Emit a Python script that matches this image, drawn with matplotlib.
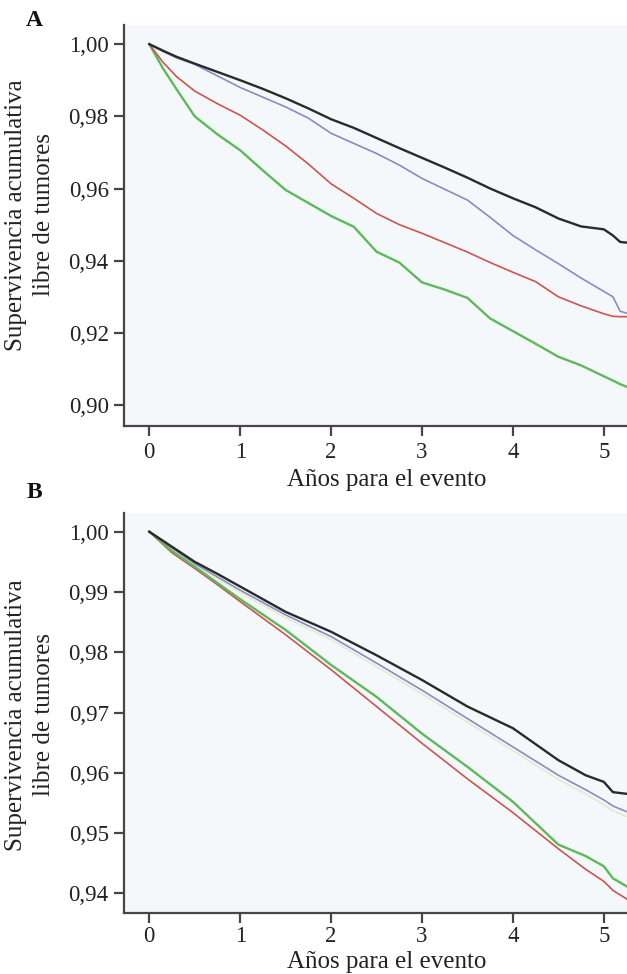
#!/usr/bin/env python3
"""
Two stacked survival curves (panels A and B): cumulative tumour-free
survival against years to event, four groups per panel.
Values read off the published figure.
"""
import matplotlib.pyplot as plt
from matplotlib.ticker import FuncFormatter

# ---- panel A -------------------------------------------------------------
A_YEARS = [0, 0.15, 0.3, 0.5, 0.75, 1, 1.25, 1.5, 1.75, 2, 2.25, 2.5, 2.75,
           3, 3.25, 3.5, 3.75, 4, 4.25, 4.5, 4.75, 5, 5.1, 5.18, 5.26]
A_BLACK = [1.000, 0.9982, 0.9965, 0.9946, 0.9923, 0.9900, 0.9876, 0.9850,
           0.9822, 0.9792, 0.9768, 0.9740, 0.9712, 0.9685, 0.9658, 0.9630,
           0.9600, 0.9573, 0.9548, 0.9517, 0.9495, 0.9487, 0.9470, 0.9452,
           0.9450]
A_BLUE = [1.000, 0.9980, 0.9962, 0.9944, 0.9912, 0.9880, 0.9853, 0.9826,
          0.9795, 0.9753, 0.9725, 0.9697, 0.9665, 0.9628, 0.9598, 0.9568,
          0.9520, 0.9470, 0.9430, 0.9392, 0.9352, 0.9315, 0.9300, 0.9260,
          0.9254]
A_RED = [1.000, 0.9950, 0.9910, 0.9870, 0.9835, 0.9803, 0.9762, 0.9718,
         0.9668, 0.9613, 0.9573, 0.9531, 0.9500, 0.9476, 0.9450, 0.9424,
         0.9395, 0.9368, 0.9342, 0.9300, 0.9275, 0.9253, 0.9246, 0.9245,
         0.9245]
A_GREEN = [1.000, 0.9933, 0.9875, 0.9800, 0.9750, 0.9706, 0.9650, 0.9596,
           0.9560, 0.9524, 0.9494, 0.9425, 0.9395, 0.9340, 0.9320, 0.9297,
           0.9240, 0.9205, 0.9170, 0.9134, 0.9110, 0.9080, 0.9068, 0.9058,
           0.9050]

# ---- panel B -------------------------------------------------------------
B_YEARS = [0, 0.25, 0.5, 0.75, 1, 1.5, 2, 2.5, 3, 3.5, 4, 4.5, 4.8, 5,
           5.1, 5.26]
B_BLACK = [1.000, 0.9975, 0.9950, 0.9930, 0.9909, 0.9867, 0.9834, 0.9795,
           0.9754, 0.9710, 0.9674, 0.9621, 0.9596, 0.9585, 0.9568, 0.9565]
B_BLUE = [1.000, 0.9973, 0.9947, 0.9925, 0.9903, 0.9862, 0.9826, 0.9782,
          0.9737, 0.9690, 0.9643, 0.9596, 0.9572, 0.9555, 0.9545, 0.9535]
B_PALE = [1.000, 0.9972, 0.9945, 0.9922, 0.9899, 0.9857, 0.9821, 0.9776,
          0.9731, 0.9684, 0.9637, 0.9589, 0.9565, 0.9547, 0.9537, 0.9527]
B_GREEN = [1.000, 0.9968, 0.9942, 0.9915, 0.9888, 0.9837, 0.9779, 0.9726,
           0.9665, 0.9610, 0.9552, 0.9481, 0.9462, 0.9445, 0.9425, 0.9411]
B_RED = [1.000, 0.9965, 0.9939, 0.9912, 0.9884, 0.9829, 0.9771, 0.9710,
         0.9649, 0.9590, 0.9534, 0.9474, 0.9440, 0.9420, 0.9405, 0.9390]

A_YTICKS = [0.90, 0.92, 0.94, 0.96, 0.98, 1.00]
B_YTICKS = [0.94, 0.95, 0.96, 0.97, 0.98, 0.99, 1.00]
XTICKS = [0, 1, 2, 3, 4, 5]

YLABEL = "Supervivencia acumulativa\nlibre de tumores"
XLABEL = "Años para el evento"

BLACK = "#2a2a2a"
BLUE = "#8c89c4"
RED = "#cc5550"
GREEN = "#5db95a"
PALE = "#e3ebcd"
SPINE = "#4a4444"
PLOT_BG = "#f4f8fa"

W, H = 627, 974
FONT = ["Liberation Serif", "DejaVu Serif"]


def comma(v, _pos):
    return f"{v:.2f}".replace(".", ",")


def style_axes(ax, yticks, ylim, xpad):
    ax.set_facecolor(PLOT_BG)
    for side in ("top", "right"):
        ax.spines[side].set_visible(False)
    for side in ("left", "bottom"):
        ax.spines[side].set_color(SPINE)
        ax.spines[side].set_linewidth(1.6)
    ax.set_xlim(-0.278, 5.255)
    ax.set_ylim(*ylim)
    ax.set_xticks(XTICKS)
    ax.set_yticks(yticks)
    ax.yaxis.set_major_formatter(FuncFormatter(comma))
    ax.tick_params(direction="out", length=7, width=1.6, color=SPINE,
                   labelsize=16.5, labelcolor="#222222")
    ax.tick_params(axis="x", pad=xpad)
    ax.tick_params(axis="y", pad=4)


def px_axes(fig, left, top, right, bottom):
    return fig.add_axes([left / W, 1 - bottom / H,
                         (right - left) / W, (bottom - top) / H])


def main():
    plt.rcParams["font.family"] = FONT
    fig = plt.figure(figsize=(W / 100, H / 100), dpi=100)
    fig.patch.set_facecolor("white")

    ax_a = px_axes(fig, 124, 25, 627, 425.7)
    style_axes(ax_a, A_YTICKS, (0.8943, 1.0053), xpad=5)
    ax_a.plot(A_YEARS, A_GREEN, color=GREEN, lw=1.7)
    ax_a.plot(A_YEARS, A_RED, color=RED, lw=1.2)
    ax_a.plot(A_YEARS, A_BLUE, color=BLUE, lw=1.2)
    ax_a.plot(A_YEARS, A_BLACK, color=BLACK, lw=1.7)

    ax_b = px_axes(fig, 124, 513, 627, 913.3)
    style_axes(ax_b, B_YTICKS, (0.9367, 1.0031), xpad=2)
    ax_b.plot(B_YEARS, B_PALE, color=PALE, lw=1.2)
    ax_b.plot(B_YEARS, B_RED, color=RED, lw=1.2)
    ax_b.plot(B_YEARS, B_GREEN, color=GREEN, lw=1.7)
    ax_b.plot(B_YEARS, B_BLUE, color=BLUE, lw=1.2)
    ax_b.plot(B_YEARS, B_BLACK, color=BLACK, lw=1.7)

    # labels placed in figure pixels to follow the source layout
    for ylab_y, xlab_y, letter, letter_y in ((215, 480, "A", 20),
                                             (715, 962, "B", 492)):
        fig.text(30 / W, 1 - ylab_y / H, YLABEL, rotation=90, ha="center",
                 va="center", multialignment="center", fontsize=18,
                 linespacing=1.3, color="#222222")
        fig.text(387 / W, 1 - xlab_y / H, XLABEL, ha="center", va="center",
                 fontsize=18, color="#222222")
        fig.text(34 / W, 1 - letter_y / H, letter, ha="center", va="center",
                 fontsize=17, fontweight="bold", color="#111111")

    fig.savefig("out.png", dpi=100, facecolor=fig.get_facecolor())


if __name__ == "__main__":
    main()
